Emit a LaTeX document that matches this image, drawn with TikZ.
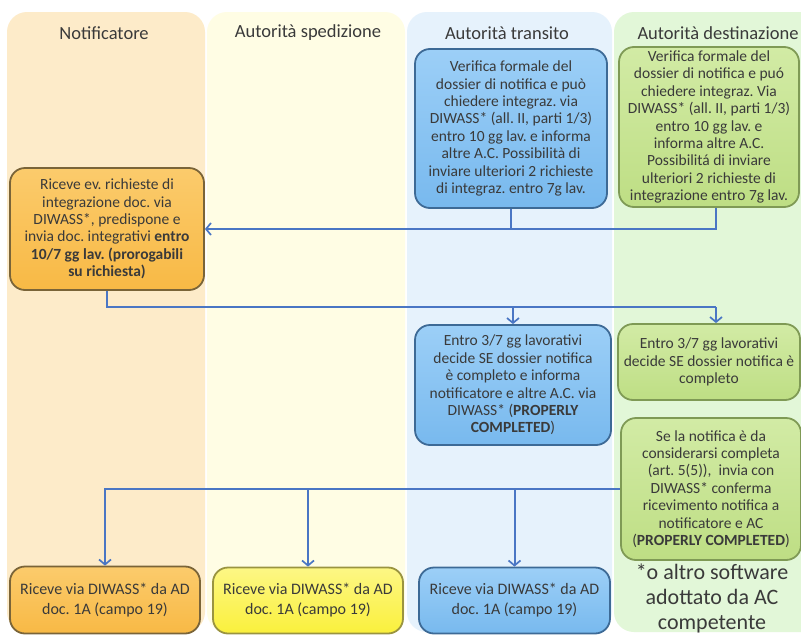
\documentclass[tikz,border=0pt]{standalone}
\usepackage{fontspec}
\setmainfont{Carlito}
\usetikzlibrary{arrows.meta,calc}
\definecolor{laneO}{HTML}{FDEBC9}
\definecolor{laneY}{HTML}{FFFDE4}
\definecolor{laneB}{HTML}{E6F2FC}
\definecolor{laneG}{HTML}{E2F7D8}
\definecolor{boxO}{HTML}{F8B945}
\definecolor{boxOl}{HTML}{FBCB6C}
\definecolor{edgeO}{HTML}{7A6438}
\definecolor{boxY}{HTML}{FAF03C}
\definecolor{boxYl}{HTML}{FDF785}
\definecolor{edgeY}{HTML}{9A9440}
\definecolor{boxB}{HTML}{78B9EE}
\definecolor{boxBl}{HTML}{9CCFF7}
\definecolor{edgeB}{HTML}{3D6A96}
\definecolor{boxG}{HTML}{BEDE84}
\definecolor{boxGl}{HTML}{D2EBA5}
\definecolor{edgeG}{HTML}{7F9A55}
\definecolor{conn}{HTML}{4A76C4}
\definecolor{txt}{HTML}{3A3A3A}
\tikzset{
  lane/.style={rounded corners=20pt},
  header/.style={font=\fontsize{18.5}{22}\selectfont, text=txt},
  box/.style={rounded corners=15pt, line width=1.8pt, align=center,
    font=\fontsize{15.5}{17.4}\selectfont, text=txt, inner sep=0pt},
  obox/.style={box, draw=edgeO, top color=boxOl, bottom color=boxO},
  ybox/.style={box, draw=edgeY, top color=boxYl, bottom color=boxY},
  bbox/.style={box, draw=edgeB, top color=boxBl, bottom color=boxB},
  gbox/.style={box, draw=edgeG, top color=boxGl, bottom color=boxG},
  lowtext/.style={font=\fontsize{16}{20}\selectfont},
  wire/.style={draw=conn, line width=2pt},
  arr/.style={wire, -{Straight Barb[length=5pt,width=12pt,line width=1.7pt]}},
  note/.style={align=center, font=\fontsize{22}{25}\selectfont, text=txt}
}
\begin{document}
\frenchspacing
\begin{tikzpicture}[x=1pt,y=-1pt]
\useasboundingbox (0,0) rectangle (801,635);
\fill[white] (0,0) rectangle (801,635);
% lanes
\fill[lane, laneO] (7,12) rectangle (205,632);
\fill[lane, laneY] (207,12) rectangle (405,632);
\fill[lane, laneB] (407,12) rectangle (612,632);
\fill[lane, laneG] (614,12) rectangle (822,632);
% headers
\node[header] (h1) at (104,33) {Notificatore};
\node[header] (h2) at (308,33) {Autorità spedizione};
\node[header] (h3) at (507,33) {Autorità transito};
\node[header] (h4) at (718,33) {Autorità destinazione};
% boxes
\node[obox, minimum width=194pt, minimum height=122pt] (N1) at (107,229)
  {Riceve ev. richieste di\\integrazione doc. via\\DIWASS*, predispone e\\invia doc. integrativi \textbf{entro}\\\textbf{10/7 gg lav. (prorogabili}\\\textbf{su richiesta)}};
\node[bbox, minimum width=192pt, minimum height=159pt] (T1) at (511,128.5)
  {Verifica formale del\\dossier di notifica e può\\chiedere integraz. via\\DIWASS* (all. II, parti 1/3)\\entro 10 gg lav. e informa\\altre A.C. Possibilità di\\inviare ulteriori 2 richieste\\di integraz. entro 7g lav.};
\node[gbox, minimum width=180pt, minimum height=160pt] (D1) at (709,127)
  {Verifica formale del\\dossier di notifica e puó\\chiedere integraz. Via\\DIWASS* (all. II, parti 1/3)\\entro 10 gg lav. e\\informa altre A.C.\\Possibilitá di inviare\\ulteriori 2 richieste di\\integrazione entro 7g lav.};
\node[bbox, minimum width=196pt, minimum height=120pt] (T2) at (513,385)
  {Entro 3/7 gg lavorativi\\decide SE dossier notifica\\è completo e informa\\notificatore e altre A.C. via\\DIWASS* (\textbf{PROPERLY}\\\textbf{COMPLETED})};
\node[gbox, minimum width=182pt, minimum height=76pt] (D2) at (709,362)
  {Entro 3/7 gg lavorativi\\decide SE dossier notifica è\\completo};
\node[gbox, minimum width=180pt, minimum height=142pt] (D3) at (711,489)
  {Se la notifica è da\\considerarsi completa\\(art. 5(5)),~ invia con\\DIWASS* conferma\\ricevimento notifica a\\notificatore e AC\\(\textbf{PROPERLY COMPLETED})};
\node[obox, lowtext, minimum width=190pt, minimum height=67pt] (B1) at (105,600)
  {Riceve via DIWASS* da AD\\doc. 1A (campo 19)};
\node[ybox, lowtext, minimum width=190pt, minimum height=66pt] (B2) at (308,600.5)
  {Riceve via DIWASS* da AD\\doc. 1A (campo 19)};
\node[bbox, lowtext, minimum width=191pt, minimum height=66pt] (B3) at (514.5,600.5)
  {Riceve via DIWASS* da AD\\doc. 1A (campo 19)};
\node[note] (fn) at (712,598) {*o altro software\\adottato da AC\\competente};
% connectors
\coordinate (j0) at ($(D1.south)+(7,0)$);
\draw[wire] (j0) |- (T1.south |- N1.east);
\draw[arr] (T1.south) |- (N1.east);
\coordinate (j1) at (716,307);
\draw[wire] (N1.south) |- (j1);
\draw[arr] (j1) -- (j1 |- D2.north);
\draw[arr] (T2.north |- j1) -- (T2.north);
\draw[arr] (D3.west) -| (B1.north);
\draw[arr] (B2.north |- D3.west) -- (B2.north);
\draw[arr] (B3.north |- D3.west) -- (B3.north);
\end{tikzpicture}
\end{document}
